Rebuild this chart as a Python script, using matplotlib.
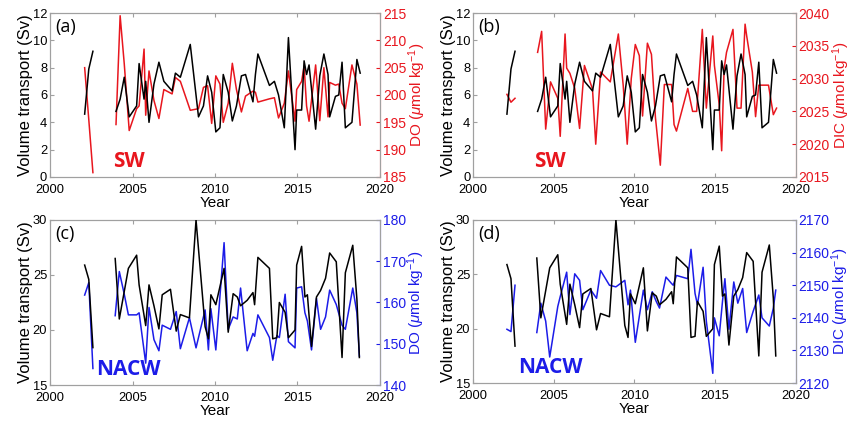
import numpy as np
import matplotlib
matplotlib.use("Agg")
import matplotlib.pyplot as plt

plt.rcParams["font.family"] = ["Liberation Sans", "DejaVu Sans"]
plt.rcParams["mathtext.fontset"] = "custom"
plt.rcParams["mathtext.rm"] = "Liberation Sans"
plt.rcParams["mathtext.it"] = "Liberation Sans:italic"

RED = "#e8161e"
BLUE = "#1c1ce8"
FRAME = "#a0a0a0"

# --- SW (South Atlantic surface water) sampling times and series ---
t_sw = [2002.1, 2002.35, 2002.6,
        2004.0, 2004.25, 2004.5, 2004.8, 2005.25, 2005.4, 2005.7, 2005.8,
        2006.0, 2006.3, 2006.6, 2006.9, 2007.4, 2007.6, 2007.9, 2008.5,
        2009.0, 2009.3, 2009.55, 2009.8, 2010.05, 2010.3, 2010.5, 2010.8,
        2011.05, 2011.3, 2011.6, 2011.85, 2012.3, 2012.45, 2012.6,
        2013.3, 2013.6, 2013.85, 2014.2, 2014.45, 2014.85, 2014.95,
        2015.25, 2015.4, 2015.55, 2015.7, 2016.1, 2016.35, 2016.6, 2016.85,
        2016.95, 2017.3, 2017.5, 2017.7, 2017.9, 2018.3, 2018.6, 2018.8]
vt_sw = [4.6, 7.9, 9.2,
         4.8, 5.7, 7.3, 4.4, 5.2, 8.3, 5.7, 7.0,
         4.0, 6.8, 8.4, 7.0, 6.3, 7.6, 7.3, 9.7,
         4.4, 5.2, 7.4, 6.2, 3.3, 3.6, 7.5, 6.2,
         4.1, 5.2, 7.4, 7.5, 5.5, 7.5, 9.0,
         6.7, 7.0, 6.0, 3.6, 10.2, 2.0, 4.9,
         4.9, 8.5, 7.5, 8.2, 3.5, 7.4, 9.0, 7.5,
         4.4, 5.9, 6.0, 8.4, 3.6, 4.0, 8.6, 7.6]
do_sw = [205.0, 195.5, 185.8,
         194.6, 214.5, 205.7, 193.5, 197.5, 198.0, 208.4, 196.3,
         204.4, 199.0, 195.7, 201.0, 200.2, 203.2, 202.5, 197.2,
         197.5, 201.4, 201.7, 194.8, 203.5, 202.0, 195.0, 198.5,
         205.8, 201.0, 196.9, 199.8, 200.7, 200.5, 198.7,
         199.3, 199.5, 195.8, 198.5, 204.4, 195.2, 201.0,
         202.5, 205.3, 198.0, 195.2, 205.5, 195.3, 205.0, 196.0,
         202.3, 201.8, 202.0, 198.5, 197.5, 205.5, 202.0, 194.5]
dic_sw = [2027.6, 2026.4, 2027.0,
          2034.0, 2037.2, 2022.3, 2029.5, 2027.0, 2021.2, 2036.8, 2031.6,
          2030.8, 2028.5, 2022.4, 2032.0, 2028.4, 2020.0, 2031.0, 2029.5,
          2036.8, 2029.0, 2020.0, 2030.0, 2035.2, 2033.5, 2024.3, 2035.4,
          2033.7, 2024.0, 2016.8, 2029.1, 2029.1, 2023.0, 2022.0,
          2028.5, 2025.0, 2025.0, 2037.5, 2025.5, 2036.5, 2032.0,
          2026.0, 2019.0, 2031.5, 2034.0, 2037.5, 2025.5, 2025.5, 2038.3,
          2036.5, 2031.0, 2024.2, 2029.0, 2029.0, 2029.0, 2024.5, 2025.5]

# --- NACW sampling times and series ---
t_nacw = [2002.1, 2002.35, 2002.6,
          2003.95, 2004.2, 2004.5, 2004.75, 2005.25, 2005.4, 2005.8, 2006.0,
          2006.3, 2006.6, 2006.8, 2007.3, 2007.65, 2007.9, 2008.45, 2008.85,
          2009.4, 2009.6, 2009.75, 2010.05, 2010.55, 2010.8, 2011.1, 2011.35,
          2011.55, 2011.95, 2012.3, 2012.4, 2012.6, 2013.3, 2013.5, 2013.75,
          2013.9, 2014.25, 2014.45, 2014.85, 2014.95, 2015.25, 2015.45,
          2015.6, 2015.85, 2016.15, 2016.4, 2016.7, 2016.95, 2017.35,
          2017.7, 2017.9, 2018.35, 2018.6, 2018.75]
vt_nacw = [25.9, 24.6, 18.4,
           26.5, 21.0, 23.5, 25.6, 26.8, 24.1, 20.4, 24.1,
           22.2, 20.1, 23.2, 23.7, 19.9, 21.4, 21.1, 30.0,
           20.3, 19.2, 23.2, 22.3, 25.6, 19.8, 23.3, 23.0,
           22.2, 22.7, 23.4, 22.3, 26.6, 25.6, 19.2, 19.3,
           22.5, 21.6, 19.3, 20.0, 25.9, 27.6, 23.0,
           23.2, 18.5, 23.0, 23.6, 24.7, 27.0, 26.2,
           17.5, 25.2, 27.7, 22.8, 17.5]
do_nacw = [161.8, 164.8, 144.0,
           156.8, 167.5, 162.0, 157.0, 157.0, 157.5, 145.3, 158.8,
           151.0, 148.3, 154.5, 153.5, 157.8, 148.8, 156.3, 149.0,
           158.2, 148.5, 158.5, 148.5, 174.5, 153.5, 156.5, 156.0,
           163.5, 148.3, 152.5, 151.8, 157.0, 151.5, 146.0, 152.0,
           151.5, 162.0, 150.5, 149.0, 163.5, 163.8, 157.5,
           155.5, 148.5, 161.0, 153.5, 156.5, 163.0, 159.5,
           154.5, 153.5, 163.5, 157.5, 147.0]
dic_nacw = [2136.5, 2135.8, 2150.0,
            2135.5, 2144.5, 2139.0, 2128.0, 2143.5, 2146.5, 2154.0, 2141.0,
            2153.5, 2151.5, 2142.5, 2148.5, 2146.0, 2154.5, 2150.0, 2149.5,
            2151.5, 2144.0, 2148.5, 2132.5, 2148.5, 2142.5, 2148.0, 2145.0,
            2143.0, 2152.5, 2150.5, 2150.0, 2153.0, 2152.0, 2161.0, 2147.5,
            2144.0, 2155.5, 2139.0, 2123.0, 2140.0, 2134.5, 2145.0,
            2152.0, 2136.5, 2151.0, 2144.5, 2149.0, 2135.5, 2142.0,
            2147.0, 2140.0, 2137.5, 2143.0, 2148.5]


def with_gaps(t, y):
    # break the line where sampling stops for more than a year
    t = np.asarray(t, float)
    y = np.asarray(y, float)
    cut = np.where(np.diff(t) > 1.0)[0] + 1
    t = np.insert(t, cut, np.nan)
    y = np.insert(y, cut, np.nan)
    return t, y


def panel(rect, t, vt, chem, color, vlim, vticks, clim, cticks, clabel, tag, water):
    ax = fig.add_axes(rect)
    ax2 = ax.twinx()
    ax.plot(*with_gaps(t, vt), color="black", lw=1.1, zorder=3)
    ax2.plot(*with_gaps(t, chem), color=color, lw=1.1)
    ax.set_zorder(ax2.get_zorder() + 1)
    ax.patch.set_visible(False)

    ax.set_xlim(2000, 2020)
    ax.set_xticks([2000, 2005, 2010, 2015, 2020])
    ax.set_ylim(*vlim)
    ax.set_yticks(vticks)
    ax2.set_ylim(*clim)
    ax2.set_yticks(cticks)

    for a in (ax, ax2):
        for s in a.spines.values():
            s.set_color(FRAME)
            s.set_linewidth(0.8)
    ax2.spines["right"].set_color(color)
    ax.tick_params(axis="x", direction="in", top=True, length=3, color=FRAME,
                   labelsize=9.3, labelcolor="black", pad=5)
    ax.tick_params(axis="y", direction="in", length=3, color=FRAME,
                   labelsize=9.3, labelcolor="black", pad=2)
    ax2.tick_params(axis="y", direction="in", length=3, color=color,
                    labelsize=10, labelcolor=color, pad=2)

    ax.set_xlabel("Year", fontsize=11, labelpad=0)
    ax.set_ylabel("Volume transport (Sv)", fontsize=12, labelpad=0)
    ax2.set_ylabel(clabel, fontsize=11, color=color, labelpad=0)

    ax.text(0.015, 0.97, tag, transform=ax.transAxes, fontsize=13,
            family="Open Sans", va="top", ha="left")
    ax.text(water[1], 0.03, water[0], transform=ax.transAxes, fontsize=15,
            family="Open Sans", weight="bold", color=color, va="bottom", ha="left")
    return ax


fig = plt.figure(figsize=(8.52, 4.21), dpi=100)

do_label = r"DO ($\mu$mol kg$^{-1}$)"
dic_label = r"DIC ($\mu$mol kg$^{-1}$)"

panel([0.0587, 0.5796, 0.3873, 0.3895], t_sw, vt_sw, do_sw, RED,
      (0, 12), range(0, 13, 2), (185, 215), range(185, 216, 5), do_label, "(a)", ("SW", 0.19))
panel([0.5552, 0.5796, 0.3790, 0.3895], t_sw, vt_sw, dic_sw, RED,
      (0, 12), range(0, 13, 2), (2015, 2040), range(2015, 2041, 5), dic_label, "(b)", ("SW", 0.19))
panel([0.0587, 0.0855, 0.3873, 0.3920], t_nacw, vt_nacw, do_nacw, BLUE,
      (15, 30), range(15, 31, 5), (140, 180), range(140, 181, 10), do_label, "(c)", ("NACW", 0.14))
panel([0.5552, 0.0900, 0.3790, 0.3875], t_nacw, vt_nacw, dic_nacw, BLUE,
      (15, 30), range(15, 31, 5), (2120, 2170), range(2120, 2171, 10), dic_label, "(d)", ("NACW", 0.14))

fig.savefig("out.png", dpi=100)
